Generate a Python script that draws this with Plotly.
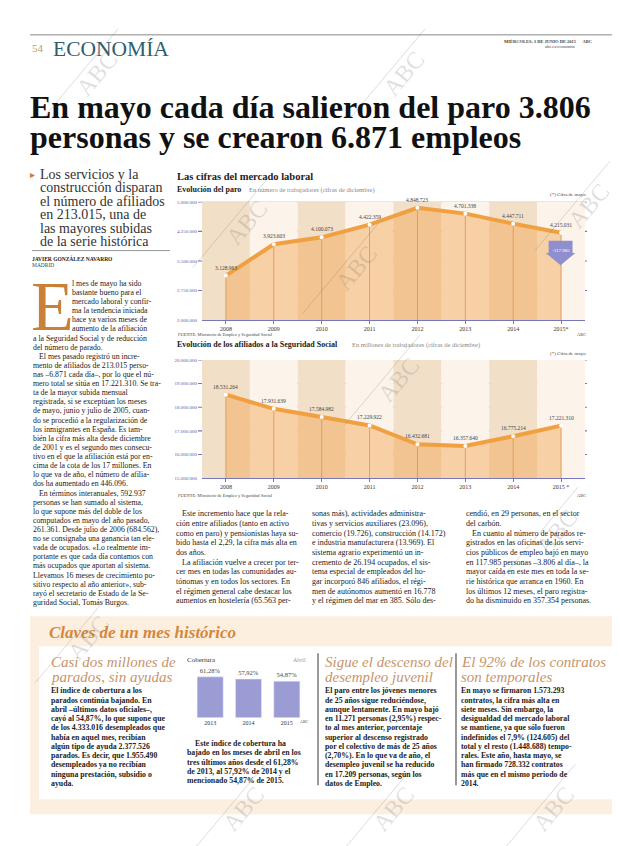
import plotly.graph_objects as go

# the page body keeps an 8px margin, so the figure is sized to the visible area
OFF = 8
W, H = 620 - OFF, 846 - OFF
SERIF = "Liberation Serif"


def X(px):
    return (px - OFF) / W


def Y(py):
    return 1 - (py - OFF) / H


# ---------------- data ----------------
years = [2008, 2009, 2010, 2011, 2012, 2013, 2014, 2015]
paro_year_labels = ["2008", "2009", "2010", "2011", "2012", "2013", "2014", "2015*"]
afil_year_labels = ["2008", "2009", "2010", "2011", "2012", "2013", "2014", "2015 *"]
paro = [3128963, 3923603, 4100073, 4422359, 4848723, 4701338, 4447711, 4215031]
afiliados = [18531264, 17931639, 17584982, 17229922, 16432681, 16357640, 16775214, 17221310]
paro_ticks = [2000000, 2750000, 3500000, 4250000, 5000000]
afil_ticks = [15000000, 16000000, 17000000, 18000000, 19000000, 20000000]
paro_bajada_mayo = -117985
cob_years = ["2013", "2014", "2015"]
cobertura = [61.28, 57.92, 54.87]


def fmt(v):
    return f"{v:,}".replace(",", ".")


fig = go.Figure()

BAND_DARK = "#f2dfc8"
BAND_LIGHT = "#fcf3ea"
GRID = "#7676bd"
LINE = "#f0a040"
FILL = "rgba(240,160,70,0.42)"
DROP = "#c98c55"


def line_chart(xa, ya, values, ticks, ticklabels, dom_x, dom_y):
    xref = "x" if xa == "xaxis" else "x" + xa[5:]
    yref = "y" if ya == "yaxis" else "y" + ya[5:]
    for i, yr in enumerate(years):
        fig.add_shape(type="rect", xref=xref, yref=yref, x0=yr - 0.5, x1=yr + 0.5,
                      y0=ticks[0], y1=ticks[-1], fillcolor=BAND_DARK if i % 2 == 0 else BAND_LIGHT,
                      line_width=0, layer="below")
    for t in ticks[1:]:
        fig.add_shape(type="line", xref="paper", yref=yref, x0=X(dom_x[0] - 4), x1=X(dom_x[1] + 2),
                      y0=t, y1=t, line=dict(color=GRID, width=1.1), layer="below")
    dx, dy = [], []
    for yr, v in zip(years, values):
        dx += [yr, yr, None]
        dy += [v, ticks[0], None]
    fig.add_trace(go.Scatter(x=dx, y=dy, mode="lines", line=dict(color=DROP, width=0.8),
                             xaxis=xref, yaxis=yref, hoverinfo="skip", showlegend=False))
    fig.add_trace(go.Scatter(x=years, y=values, mode="lines+markers",
                             line=dict(color=LINE, width=4), marker=dict(color="white", size=4),
                             fill="tozeroy", fillcolor=FILL, xaxis=xref, yaxis=yref,
                             hoverinfo="skip", showlegend=False))
    for yr, v in zip(years, values):
        fig.add_annotation(x=yr, y=v, xref=xref, yref=yref, text=fmt(v), showarrow=False,
                           yshift=8, font=dict(family=SERIF, size=5.5, color="#444"))
    fig.update_layout({
        xa: dict(domain=[X(dom_x[0]), X(dom_x[1])], range=[2007.5, 2015.5], anchor=yref,
                 tickvals=years, ticktext=ticklabels, tickfont=dict(family=SERIF, size=6, color="#333"),
                 showline=True, linecolor=GRID, linewidth=1.2, ticks="outside", ticklen=3,
                 tickcolor=GRID, showgrid=False, zeroline=False, fixedrange=True),
        ya: dict(domain=[Y(dom_y[1]), Y(dom_y[0])], range=[ticks[0], ticks[-1]], anchor=xref,
                 tickvals=ticks, tickformat=",d", tickfont=dict(family=SERIF, size=5, color="#5a5aa8"),
                 showgrid=False, zeroline=False, showline=False, ticklabelstandoff=4, fixedrange=True),
    })


line_chart("xaxis", "yaxis", paro, paro_ticks, paro_year_labels, (202, 585), (201, 320))
line_chart("xaxis2", "yaxis2", afiliados, afil_ticks, afil_year_labels, (202, 585), (360, 479))

# down arrow for May change
top = paro[-1] - 200000
bot = top - 620000
xl, xr = years[-1] - 0.26, years[-1] + 0.24
mid = (top + bot) / 2
fig.add_shape(type="path", xref="x", yref="y",
              path=f"M {xl},{top} L {xr},{top} L {xr},{mid} L {xr+0.06},{mid} L {years[-1]-0.01},{bot} "
                   f"L {xl-0.06},{mid} L {xl},{mid} Z",
              fillcolor="#8f8fcf", line_width=0, layer="above")
fig.add_annotation(x=years[-1] - 0.01, y=mid + 70000, xref="x", yref="y", text=fmt(paro_bajada_mayo),
                   showarrow=False, font=dict(family=SERIF, size=5, color="white"))

# ---------------- small bar chart ----------------
fig.add_shape(type="rect", xref="x3 domain", yref="y3 domain", x0=0, x1=1, y0=0, y1=1,
              fillcolor="#f4e5d0", line_width=0, layer="below")
fig.add_trace(go.Bar(x=cob_years, y=cobertura, marker=dict(color="#9c9cd4"), width=0.68,
                     text=[f"{v:.2f}%".replace(".", ",") for v in cobertura], textposition="outside",
                     textfont=dict(family=SERIF, size=6.5, color="#444"), cliponaxis=False,
                     xaxis="x3", yaxis="y3", hoverinfo="skip", showlegend=False))
fig.update_layout(
    xaxis3=dict(domain=[X(191), X(306)], anchor="y3", tickfont=dict(family=SERIF, size=6, color="#333"),
                showline=False, ticks="", showgrid=False, fixedrange=True),
    yaxis3=dict(domain=[Y(720), Y(673)], anchor="x3", range=[0, 70], showticklabels=False,
                gridcolor="white", gridwidth=1.5, dtick=8, zeroline=False, fixedrange=True),
)


# ---------------- text helpers ----------------
def txt(x, y, t, size=8, color="#222", anchor="left", bold=False, italic=False, family=SERIF, angle=0):
    if bold:
        t = f"<b>{t}</b>"
    if italic:
        t = f"<i>{t}</i>"
    if anchor == "left":
        x -= 2
    elif anchor == "right":
        x += 2
    fig.add_annotation(x=X(x), y=Y(y), xref="paper", yref="paper", text=t, showarrow=False,
                       xanchor=anchor, yanchor="middle", textangle=angle,
                       font=dict(family=family, size=size, color=color))


def block(x, y0, dy, lines, size=8, color="#222", bold=False, indent=6, italic=False):
    for i, ln in enumerate(lines):
        xx = x
        if ln.startswith(">"):
            ln = ln[1:]
            xx = x + indent
        txt(xx, y0 + i * dy, ln, size=size, color=color, bold=bold, italic=italic)


# ---------------- header ----------------
fig.add_shape(type="line", xref="paper", yref="paper", x0=X(30), x1=X(620), y0=Y(33), y1=Y(33),
              line=dict(color="#888", width=1))
txt(32, 46, "54", size=11, color="#b99a72")
txt(53, 47, "ECONOMÍA", size=21.5, color="#2f5e6e")
txt(592, 40, "MIÉRCOLES, 3 DE JUNIO DE 2015      ABC", size=4.5, color="#444", anchor="right", bold=True)
txt(575, 45, "abc.es/economia", size=4.5, color="#444", anchor="right")

txt(30, 106, "En mayo cada día salieron del paro 3.806", size=32, color="#111", bold=True)
txt(30, 136, "personas y se crearon 6.871 empleos", size=32, color="#111", bold=True)

# subhead
txt(30, 173, "▸", size=10, color="#d47b2a")
block(40, 173, 13.6, ["Los servicios y la", "construcción disparan", "el número de afiliados",
                       "en 213.015, una de", "las mayores subidas", "de la serie histórica"],
      size=14, color="#333")
fig.add_shape(type="line", xref="paper", yref="paper", x0=X(32), x1=X(170), y0=Y(250), y1=Y(250),
              line=dict(color="#999", width=1))
txt(32, 258, "JAVIER GONZÁLEZ NAVARRO", size=5.5, color="#222", bold=True)
txt(32, 265, "MADRID", size=5.5, color="#444")

# drop cap
txt(31, 306, "E", size=70, color="#c98038")

left_col = [
    ">>l mes de mayo ha sido", ">>bastante bueno para el", ">>mercado laboral y confir-",
    ">>ma la tendencia iniciada", ">>hace ya varios meses de", ">>aumento de la afiliación",
    "a la Seguridad Social y de reducción", "del número de parado.",
    ">El mes pasado registró un incre-", "mento de afiliados de 213.015 perso-",
    "nas –6.871 cada día–, por lo que el nú-", "mero total se sitúa en 17.221.310. Se tra-",
    "ta de la mayor subida mensual", "registrada, si se exceptúan los meses",
    "de mayo, junio y julio de 2005, cuan-", "do se procedió a la regularización de",
    "los inmigrantes en España. Es tam-", "bién la cifra más alta desde diciembre",
    "de 2001 y es el segundo mes consecu-", "tivo en el que la afiliación está por en-",
    "cima de la cota de los 17 millones. En", "lo que va de año, el número de afilia-",
    "dos ha aumentado en 446.096.", ">En términos interanuales, 592.937",
    "personas se han sumado al sistema,", "lo que supone más del doble de los",
    "computados en mayo del año pasado,", "261.361. Desde julio de 2006 (684.562),",
    "no se consignaba una ganancia tan ele-", "vada de ocupados. «Lo realmente im-",
    "portante es que cada día contamos con", "más ocupados que aportan al sistema.",
    "Llevamos 16 meses de crecimiento po-", "sitivo respecto al año anterior», sub-",
    "rayó el secretario de Estado de la Se-", "guridad Social, Tomás Burgos.",
]
for i, ln in enumerate(left_col):
    xx = 33
    if ln.startswith(">>"):
        ln = ln[2:]
        xx = 72
    elif ln.startswith(">"):
        ln = ln[1:]
        xx = 39
    txt(xx, 283 + i * 9.17, ln, size=7.8)

col_a = [">Este incremento hace que la rela-", "ción entre afiliados (tanto en activo",
         "como en paro) y pensionistas haya su-", "bido hasta el 2,29, la cifra más alta en",
         "dos años.", ">La afiliación vuelve a crecer por ter-", "cer mes en todas las comunidades au-",
         "tónomas y en todos los sectores. En", "el régimen general cabe destacar los",
         "aumentos en hostelería (65.563 per-"]
col_b = ["sonas más), actividades administra-", "tivas y servicios auxiliares (23.096),",
         "comercio (19.726), construcción (14.172)", "e industria manufacturera (13.969). El",
         "sistema agrario experimentó un in-", "cremento de 26.194 ocupados, el sis-",
         "tema especial de empleados del ho-", "gar incorporó 846 afiliados, el régi-",
         "men de autónomos aumentó en 16.778", "y el régimen del mar en 385. Sólo des-"]
col_c = ["cendió, en 29 personas, en el sector", "del carbón.", ">En cuanto al número de parados re-",
         "gistrados en las oficinas de los servi-", "cios públicos de empleo bajó en mayo",
         "en 117.985 personas –3.806 al día–, la", "mayor caída en este mes en toda la se-",
         "rie histórica que arranca en 1960. En", "los últimos 12 meses, el paro registra-",
         "do ha disminuido en 357.354 personas."]
block(176, 515, 9.7, col_a)
block(312, 515, 9.7, col_b)
block(466, 515, 9.7, col_c)

# ---------------- chart titles ----------------
txt(177, 175, "Las cifras del mercado laboral", size=10.5, color="#222", bold=True)
txt(177, 189, "Evolución del paro", size=8, color="#222", bold=True)
txt(249, 189, "En número de trabajadores (cifras de diciembre)", size=6.5, color="#888")
txt(586, 194, "(*) Cifra de mayo", size=5, color="#444", anchor="right")
txt(178, 334, "FUENTE: Ministerio de Empleo y Seguridad Social", size=4.5, color="#444")
txt(586, 334, "ABC", size=4.5, color="#444", anchor="right")

txt(177, 345, "Evolución de los afiliados a la Seguridad Social", size=8, color="#222", bold=True)
txt(352, 345, "En millones de trabajadores (cifras de diciembre)", size=6.5, color="#888")
txt(586, 354, "(*) Cifra de mayo", size=5, color="#444", anchor="right")
txt(178, 496, "FUENTE: Ministerio de Empleo y Seguridad Social", size=4.5, color="#444")
txt(586, 496, "ABC", size=4.5, color="#444", anchor="right")

# ---------------- bottom box ----------------
fig.add_shape(type="rect", xref="paper", yref="paper", x0=X(30), x1=X(616), y0=Y(817), y1=Y(618),
              fillcolor="#fcefe0", line_width=0, layer="below")
fig.add_shape(type="rect", xref="paper", yref="paper", x0=X(39), x1=X(612), y0=Y(802), y1=Y(648),
              fillcolor="#ffffff", line_width=0, layer="below")
txt(49, 634, "Claves de un mes histórico", size=17, color="#d3883c", bold=True, italic=True)

HEAD = "#c9946a"
block(51, 664, 15, ["Casi dos millones de", "parados, sin ayudas"], size=15, color=HEAD, italic=True)
block(51, 693, 9.3, ["El índice de cobertura a los", "parados continúa bajando. En",
                     "abril –últimos datos oficiales–,", "cayó al 54,87%, lo que supone que",
                     "de los 4.333.016 desempleados que", "había en aquel mes, recibían",
                     "algún tipo de ayuda 2.377.526", "parados. Es decir, que 1.955.490",
                     "desempleados ya no recibían", "ninguna prestación, subsidio o", "ayuda."],
      size=7.8, bold=True)

txt(187, 662, "Cobertura", size=7, color="#333")
txt(306, 662, "Abril", size=6, color="#999", anchor="right")
txt(309, 724, "ABC", size=4, color="#444", anchor="right")
block(187, 746, 9.3, [">Este índice de cobertura ha", "bajado en los meses de abril en los",
                      "tres últimos años desde el 61,28%", "de 2013, al 57,92% de 2014 y el",
                      "mencionado 54,87% de 2015."], size=7.8, bold=True, indent=8)

for sx in (318, 456):
    fig.add_shape(type="line", xref="paper", yref="paper", x0=X(sx), x1=X(sx), y0=Y(655), y1=Y(788),
                  line=dict(color="#555", width=1.2))

block(325, 664, 15, ["Sigue el descenso del", "desempleo juvenil"], size=15, color=HEAD, italic=True)
block(325, 693, 9.3, ["El paro entre los jóvenes menores", "de 25 años sigue reduciéndose,",
                      "aunque lentamente. En mayo bajó", "en 11.271 personas (2,95%) respec-",
                      "to al mes anterior, porcentaje", "superior al descenso registrado",
                      "por el colectivo de más de 25 años", "(2,70%). En lo que va de año, el",
                      "desempleo juvenil se ha reducido", "en 17.209 personas, según los",
                      "datos de Empleo."], size=7.8, bold=True)

block(461, 664, 15, ["El 92% de los contratos", "son temporales"], size=15, color=HEAD, italic=True)
block(461, 693, 9.3, ["En mayo se firmaron 1.573.293", "contratos, la cifra más alta en",
                      "siete meses. Sin embargo, la", "desigualdad del mercado laboral",
                      "se mantiene, ya que sólo fueron", "indefinidos el 7,9% (124.605) del",
                      "total y el resto (1.448.688) tempo-", "rales. Este año, hasta mayo, se",
                      "han firmado 728.332 contratos", "más que en el mismo periodo de",
                      "2014."], size=7.8, bold=True)

# ---------------- watermarks ----------------
marks = [(88, 72), (395, 72), (238, 222), (580, 205), (348, 268), (390, 380),
         (548, 533), (80, 640), (235, 812), (385, 812), (545, 812)]
for (mx, my) in marks:
    txt(mx - 18, my, "ABC", size=24, color="rgba(110,110,110,0.22)", angle=-50)
    fig.add_shape(type="line", xref="paper", yref="paper", x0=X(mx - 45), x1=X(mx + 30),
                  y0=Y(my + 45), y1=Y(my - 45), line=dict(color="rgba(110,110,110,0.3)", width=0.8))

fig.update_layout(
    width=W, height=H, margin=dict(l=0, r=0, t=0, b=0),
    paper_bgcolor="white", plot_bgcolor="rgba(0,0,0,0)",
    separators=",.", showlegend=False, font=dict(family=SERIF),
)

fig.write_html("out.html")
